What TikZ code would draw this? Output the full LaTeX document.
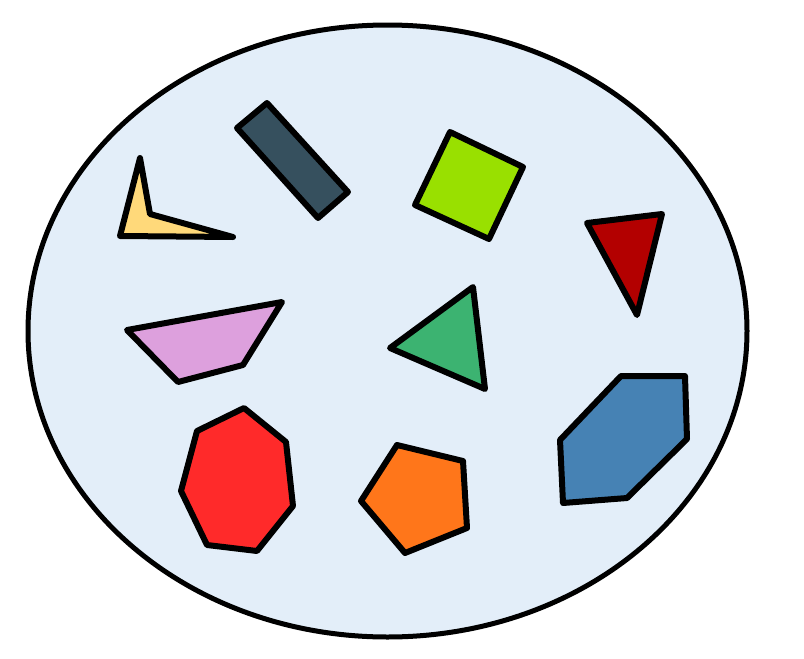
\documentclass[tikz,border=0pt]{standalone}
\begin{document}
\begin{tikzpicture}[x=1pt,y=-1pt,
  shp/.style={draw=black,line width=6pt,line join=round}]
\useasboundingbox (0,0) rectangle (804,659);
\definecolor{bgfill}{HTML}{E3EEF9}
\definecolor{cyel}{HTML}{FFD97A}
\definecolor{cslate}{HTML}{36505E}
\definecolor{clime}{HTML}{99E000}
\definecolor{cdred}{HTML}{B30000}
\definecolor{cplum}{HTML}{DDA0DD}
\definecolor{csea}{HTML}{3CB371}
\definecolor{cred}{HTML}{FF2A2A}
\definecolor{corange}{HTML}{FF761A}
\definecolor{csteel}{HTML}{4682B4}
\draw[fill=bgfill,line width=5pt] (387.5,331) ellipse [x radius=359.5, y radius=306];
\draw[shp,fill=cyel] (140,158) -- (150,214) -- (233,237) -- (120,236) -- cycle;
\draw[shp,fill=cslate] (267,103) -- (237,128) -- (318,218) -- (348,192) -- cycle;
\draw[shp,fill=clime] (450,132) -- (523,167) -- (489,239) -- (415,205) -- cycle;
\draw[shp,fill=cdred] (587,223) -- (662,214) -- (637,315) -- cycle;
\draw[shp,fill=cplum] (127,330) -- (282,302) -- (243,365) -- (178,382) -- cycle;
\draw[shp,fill=csea] (473,287) -- (390,348) -- (485,389) -- cycle;
\draw[shp,fill=cred] (244,408) -- (286,442) -- (293,506) -- (257,551) -- (207,545) -- (181,491) -- (197,431) -- cycle;
\draw[shp,fill=corange] (397,445) -- (463,461) -- (467,528) -- (405,553) -- (361,501) -- cycle;
\draw[shp,fill=csteel] (621,376) -- (685,376) -- (687,439) -- (627,498) -- (563,503) -- (560,440) -- cycle;
\end{tikzpicture}
\end{document}
